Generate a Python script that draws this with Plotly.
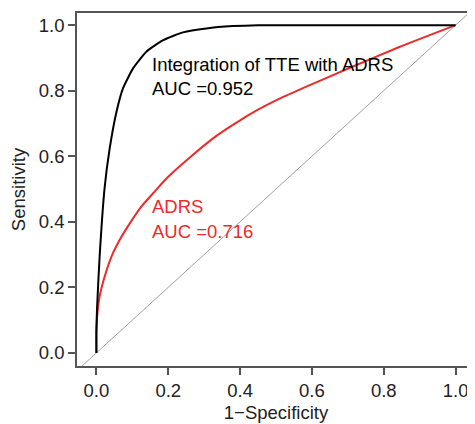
import plotly.graph_objects as go

# ROC curve points
combined_fpr = [0, 0, 0.002, 0.009, 0.023, 0.037, 0.056, 0.074, 0.102, 0.139,
                0.186, 0.241, 0.306, 0.38, 0.45, 1.0]
combined_tpr = [0, 0.07, 0.141, 0.294, 0.505, 0.624, 0.736, 0.807, 0.868, 0.919,
                0.954, 0.978, 0.990, 0.997, 1.0, 1.0]

adrs_fpr = [0, 0, 0.002, 0.009, 0.023, 0.042, 0.065, 0.093, 0.125, 0.162, 0.195,
            0.26, 0.334, 0.427, 0.52, 0.594, 0.706, 0.845, 1.0]
adrs_tpr = [0, 0.06, 0.11, 0.172, 0.233, 0.294, 0.345, 0.395, 0.446, 0.492, 0.532,
            0.596, 0.662, 0.728, 0.781, 0.817, 0.870, 0.934, 1.0]

ref_line = [-0.1, 1.1]
tick_vals = [0, 0.2, 0.4, 0.6, 0.8, 1.0]
tick_text = ["0.0", "0.2", "0.4", "0.6", "0.8", "1.0"]

RED = "#ee2a2a"
FONT = "Liberation Sans, Arial, Helvetica, sans-serif"
FS = 18.5

fig = go.Figure()

fig.add_trace(go.Scatter(x=ref_line, y=ref_line, mode="lines",
                         line=dict(color="#a0a0a0", width=1), hoverinfo="skip"))
fig.add_trace(go.Scatter(x=adrs_fpr, y=adrs_tpr, mode="lines",
                         line=dict(color=RED, width=2, shape="spline", smoothing=0.5)))
fig.add_trace(go.Scatter(x=combined_fpr, y=combined_tpr, mode="lines",
                         line=dict(color="black", width=2, shape="spline", smoothing=0.5)))

fig.add_annotation(x=0.148, y=0.881, text="Integration of TTE with ADRS",
                   xanchor="left", yanchor="middle", showarrow=False,
                   font=dict(color="black", size=FS))
fig.add_annotation(x=0.148, y=0.808, text="AUC =0.952",
                   xanchor="left", yanchor="middle", showarrow=False,
                   font=dict(color="black", size=FS))
fig.add_annotation(x=0.148, y=0.448, text="ADRS",
                   xanchor="left", yanchor="middle", showarrow=False,
                   font=dict(color=RED, size=FS))
fig.add_annotation(x=0.148, y=0.369, text="AUC =0.716",
                   xanchor="left", yanchor="middle", showarrow=False,
                   font=dict(color=RED, size=FS))

axis_common = dict(
    tickvals=tick_vals, ticktext=tick_text,
    showgrid=False, zeroline=False, automargin=False,
    showline=True, linecolor="#555555", linewidth=1.5,
    ticks="outside", ticklen=7, tickwidth=1.5, tickcolor="#555555",
    tickfont=dict(size=FS, color="#222222"),
)

fig.update_xaxes(range=[-0.054, 1.054], mirror=True,
                 title=dict(text="1−Specificity", standoff=6,
                            font=dict(size=FS, color="#222222")),
                 **axis_common)
fig.update_yaxes(range=[-0.04, 1.037],
                 title=dict(text="Sensitivity", standoff=8,
                            font=dict(size=FS, color="#222222")),
                 **axis_common)

# page body has an 8px margin, so the figure is offset by that much
fig.update_layout(
    width=467, height=416,
    margin=dict(l=69, r=0, t=5, b=58),
    plot_bgcolor="white", paper_bgcolor="white",
    showlegend=False,
    font=dict(family=FONT, size=FS),
)

fig.write_html("out.html")
